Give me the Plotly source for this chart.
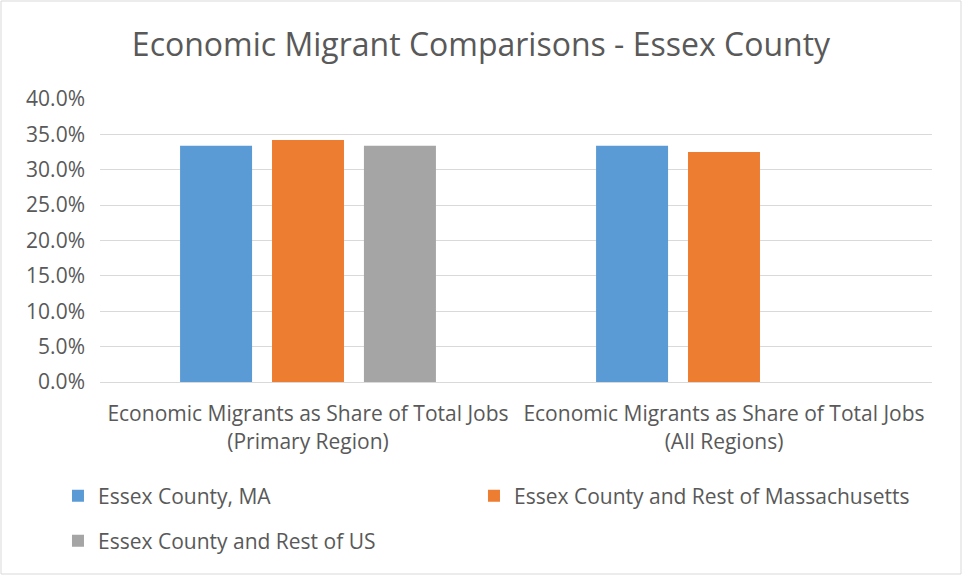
import plotly.graph_objects as go

categories = ["Economic Migrants as Share of Total Jobs<br>(Primary Region)",
              "Economic Migrants as Share of Total Jobs<br>(All Regions)"]
series_names = ["Essex County, MA",
                "Essex County and Rest of Massachusetts",
                "Essex County and Rest of US"]
essex_ma = [0.334, 0.334]
essex_rest_ma = [0.342, 0.325]
essex_rest_us = [0.334, None]
colors = ["#5B9BD5", "#ED7D31", "#A5A5A5"]

FONT = "Open Sans"
TXT = "#595959"
FS = 21

fig = go.Figure()
for name, vals, col, lg in zip(series_names,
                               [essex_ma, essex_rest_ma, essex_rest_us],
                               colors, ["legend", "legend2", "legend3"]):
    fig.add_trace(go.Bar(x=categories, y=vals, name=name, marker_color=col,
                         marker_line_width=0, legend=lg))

leg_common = dict(orientation="h", yanchor="middle", xanchor="left",
                  font=dict(size=FS, color=TXT, family=FONT), itemwidth=30,
                  bgcolor="rgba(0,0,0,0)")
fig.update_layout(
    width=962, height=575,
    margin=dict(l=100, r=30, t=99, b=193),
    paper_bgcolor="white", plot_bgcolor="white",
    font=dict(family=FONT, color=TXT, size=FS),
    title=dict(text="Economic Migrant Comparisons - Essex County",
               x=0.5, xanchor="center", y=0.922, yanchor="middle",
               font=dict(size=32, color=TXT, family=FONT)),
    barmode="group", bargap=0.337, bargroupgap=0.217,
    legend=dict(x=-0.0505, y=-0.403, **leg_common),
    legend2=dict(x=0.4495, y=-0.403, **leg_common),
    legend3=dict(x=-0.0505, y=-0.562, **leg_common),
    showlegend=True,
)
fig.update_yaxes(range=[0, 0.4], dtick=0.05, tickformat=".1%",
                 showgrid=True, gridcolor="#D9D9D9", gridwidth=1,
                 zeroline=False, showline=False, ticklabelstandoff=14,
                 tickfont=dict(size=FS, color=TXT))
fig.update_xaxes(showline=True, linecolor="#D9D9D9", linewidth=1,
                 ticks="", ticklabelstandoff=13,
                 tickfont=dict(size=FS, color=TXT))
fig.add_shape(type="rect", xref="paper", yref="paper",
              x0=-99/832, x1=1+29/832, y0=-192/283, y1=1+98/283,
              line=dict(color="#D9D9D9", width=1), fillcolor="rgba(0,0,0,0)")

fig.write_html("out.html", config={"displayModeBar": False},
               post_script="document.body.style.margin='0';")
